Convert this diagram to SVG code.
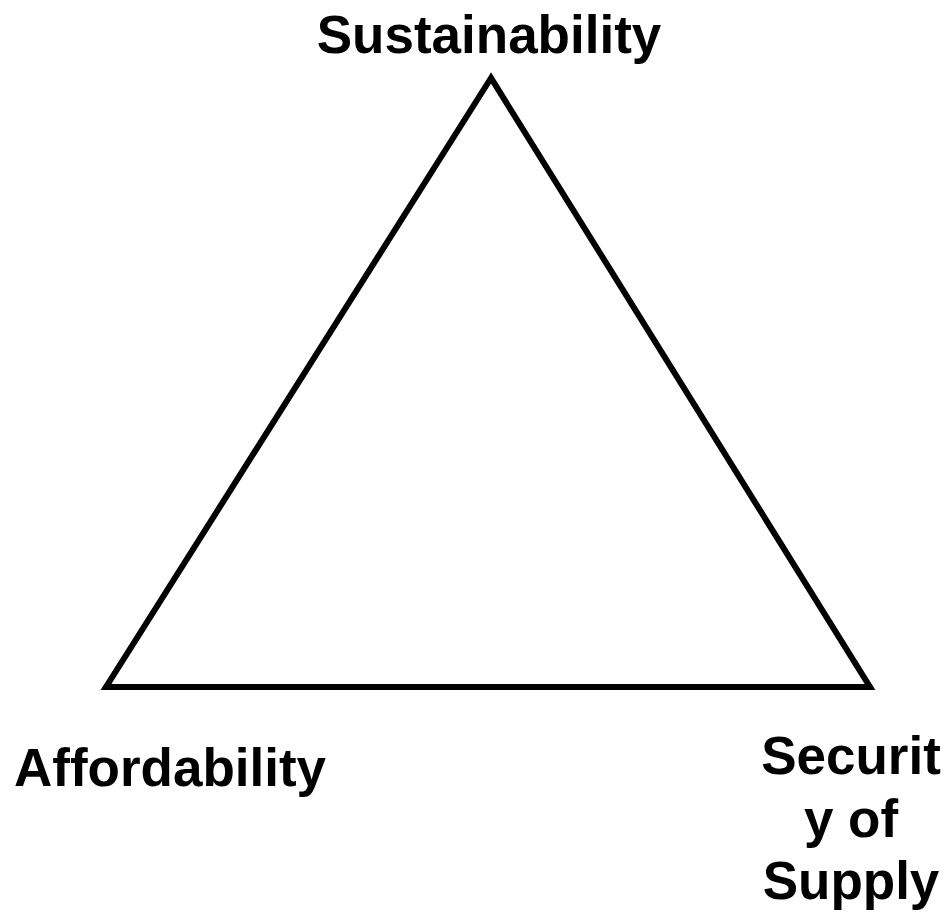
<svg xmlns="http://www.w3.org/2000/svg" width="946" height="912" viewBox="0 0 946 912">
<style>
.lbl{font-family:"Liberation Sans",Arial,sans-serif;font-weight:bold;font-size:53px;fill:#000}
</style>
<rect width="946" height="912" fill="#fff"/>
<g id="connectors">
<polygon points="491,78 106,687 870,687" fill="none" stroke="#000" stroke-width="6" stroke-linejoin="miter"/>
</g>
<g id="node-sustainability"><text class="lbl" x="489" y="53" text-anchor="middle">Sustainability</text></g>
<g id="node-affordability"><text class="lbl" x="14" y="786">Affordability</text></g>
<g id="node-security"><text class="lbl" text-anchor="middle"><tspan x="851" y="774">Securit</tspan><tspan x="851" y="837">y of</tspan><tspan x="851" y="899">Supply</tspan></text></g>
</svg>
